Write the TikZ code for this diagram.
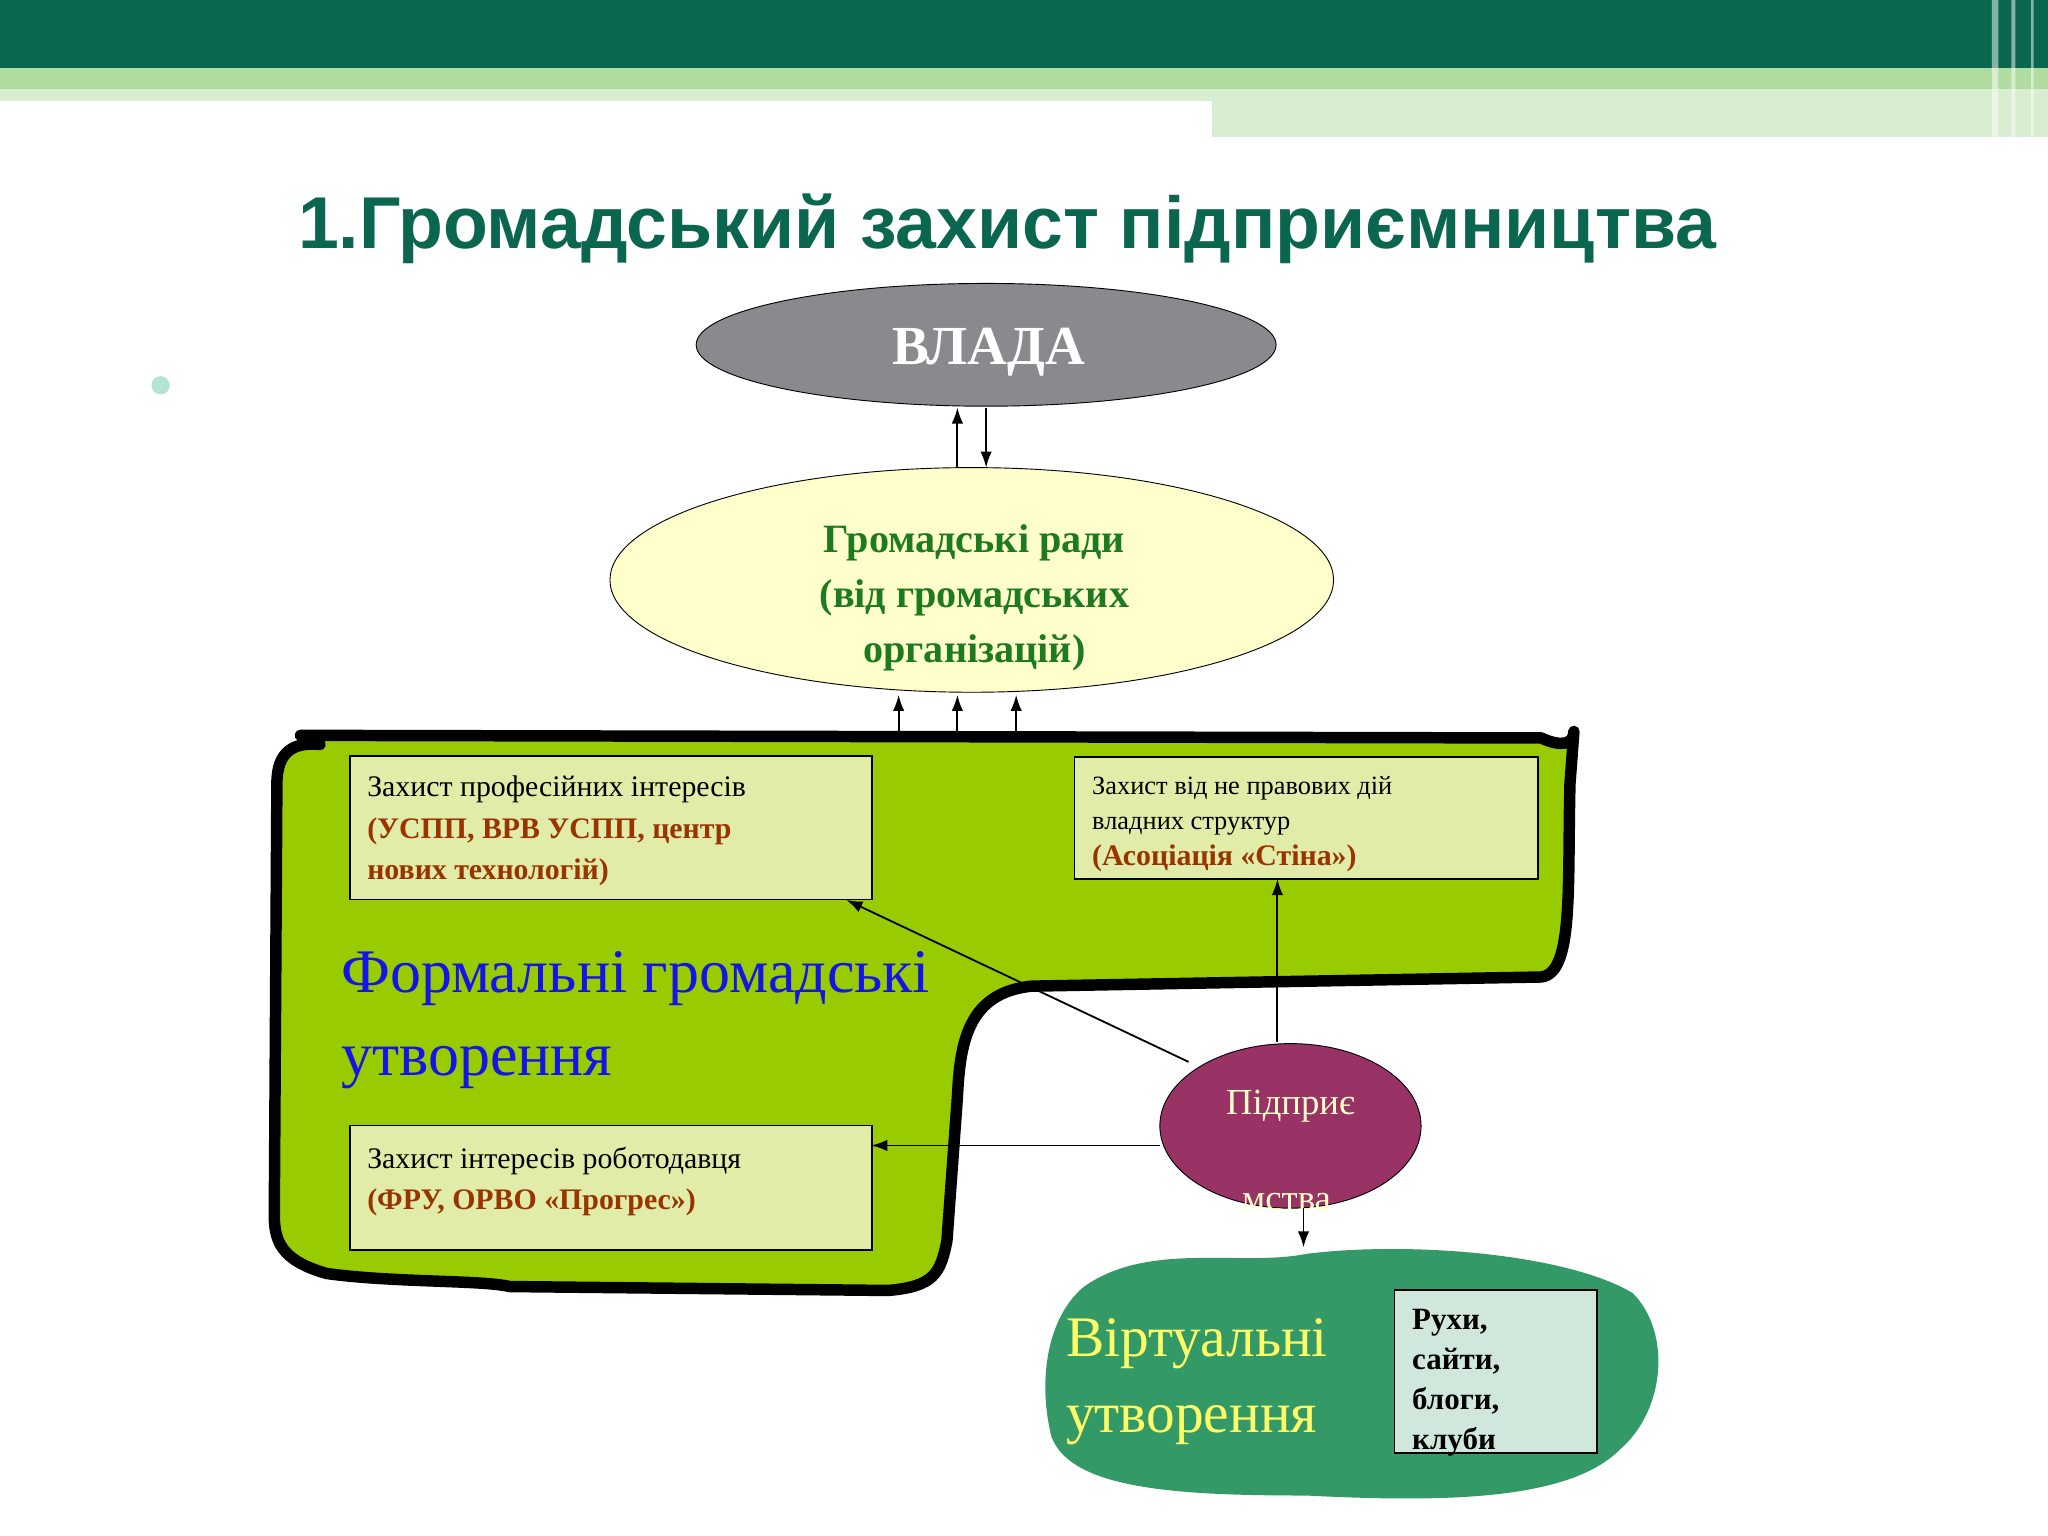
\documentclass[tikz,border=0pt]{standalone}
\usepackage{fontspec}
\setmainfont{Liberation Serif}
\newfontfamily\titlefont{Liberation Sans}
\usetikzlibrary{arrows.meta}
\definecolor{dgreen}{HTML}{0B6650}
\definecolor{lgreen}{HTML}{B0DCA0}
\definecolor{llgreen}{HTML}{D8EED0}
\definecolor{blobg}{HTML}{99CC00}
\definecolor{boxg}{HTML}{E0ECA8}
\definecolor{redt}{HTML}{993300}
\definecolor{virt}{HTML}{339966}
\tikzset{x=0.02cm,y=-0.02cm,
 arr/.style={-{Latex[length=7pt,width=5pt]},thick},
 gbox/.style={draw,thick,fill=boxg},
 btxt/.style={anchor=north west,align=left,font=\fontsize{13}{18}\selectfont}}
\begin{document}
\begin{tikzpicture}
\useasboundingbox (0,0) rectangle (1568,1176);
\fill[white] (0,0) rectangle (1568,1176);
\fill[llgreen] (928,68) rectangle (1568,105);
\fill[lgreen] (0,52) rectangle (1568,68);
\fill[llgreen] (0,68) rectangle (928,77);
\fill[dgreen] (0,0) rectangle (1568,52);
\fill[white,opacity=.5] (1525,0) rectangle (1530,105) (1540,0) rectangle (1543,105) (1555,0) rectangle (1557,105);
\node (title) at (771,175) {\titlefont\bfseries\color{dgreen}\fontsize{32}{36}\selectfont 1.Громадський захист підприємництва};
\fill[cyan!40!green!30] (123,295) circle (7);
% vlada
\draw[fill={rgb,255:red,138;green,138;blue,142}] (755,264) ellipse [x radius=222,y radius=47];
\node[text=white,font=\bfseries\fontsize{24}{28}\selectfont] (vl) at (757,270) {ВЛАДА};
\coordinate (va) at (733,312); \coordinate (vb) at (755,312);
\coordinate (ra) at (733,358); \coordinate (rb) at (755,358);
\draw[arr] (ra) -- (va);
\draw[arr] (vb) -- (rb);
% rady
\draw[fill={rgb,255:red,255;green,255;blue,204}] (744,444) ellipse [x radius=277,y radius=86];
\node[align=center,text={rgb,255:red,30;green,122;blue,30},font=\bfseries\fontsize{17.5}{24}\selectfont] (rady) at (746,458) {Громадські ради\\(від громадських\\ організацій)};
% green blob
\draw[line width=5pt,fill=blobg,line join=round] (230,563) -- (1180,565) .. controls (1195,572) and (1205,570) .. (1205,560)
 -- (1202,600) .. controls (1200,680) and (1205,745) .. (1180,748) -- (790,755) .. controls (740,760) and (735,800) .. (733,840)
 -- (725,950) .. controls (720,975) and (715,985) .. (680,988) -- (390,985) .. controls (370,980) and (300,982) .. (250,975)
 .. controls (215,965) and (210,950) .. (210,930) -- (212,600) .. controls (212,575) and (225,568) .. (245,570) -- cycle;
\foreach \xx in {688,733,778} \draw[arr] (\xx,560) -- (\xx,532);
% boxes
\node[gbox,minimum width=400*0.02cm,minimum height=110*0.02cm,anchor=north west] (b1) at (267,578) {};
\node[btxt] at (275,588) {Захист професійних інтересів\\\textcolor{redt}{\bfseries (УСПП, ВРВ УСПП, центр}\\\textcolor{redt}{\bfseries нових технологій)}};
\node[gbox,minimum width=355*0.02cm,minimum height=93*0.02cm,anchor=north west] (b2) at (822,579) {};
\node[btxt,font=\fontsize{11.5}{15.5}\selectfont] at (830,588) {Захист від не правових дій\\владних структур\\\textcolor{redt}{\bfseries\fontsize{13}{15}\selectfont (Асоціація «Стіна»)}};
\node[gbox,minimum width=400*0.02cm,minimum height=95*0.02cm,anchor=north west] (b3) at (267,861) {};
\node[btxt] at (275,872) {Захист інтересів роботодавця\\\textcolor{redt}{\bfseries (ФРУ, ОРВО «Прогрес»)}};
\node[anchor=west,align=left,text={rgb,255:red,20;green,20;blue,230},font=\fontsize{27}{36}\selectfont] (form) at (255,781) {Формальні громадські\\утворення};
% pidpryiemstva
\draw[fill={rgb,255:red,153;green,51;blue,102}] (988,862) ellipse [x radius=100,y radius=63];
\node[text={rgb,255:red,255;green,255;blue,204},font=\fontsize{16}{18}\selectfont] (p1) at (988,847) {Підприє};
\node[text={rgb,255:red,255;green,255;blue,204},font=\fontsize{16}{18}\selectfont] (p2) at (985,920) {мства};
\coordinate (e1) at (910,813); \coordinate (t1) at (648,689);
\draw[arr] (e1) -- (t1);
\coordinate (e2) at (978,798); \coordinate (t2) at (978,673);
\draw[arr] (e2) -- (t2);
\coordinate (e3) at (888,877); \coordinate (t3) at (667,877);
\draw[arr] (e3) -- (t3);
\coordinate (e4) at (998,925); \coordinate (t4) at (998,955);
\draw[arr] (e4) -- (t4);
% virtual
\fill[virt] (830,985) .. controls (880,950) and (950,970) .. (1000,960) .. controls (1080,950) and (1200,960) .. (1250,990)
 .. controls (1280,1020) and (1275,1080) .. (1240,1110) .. controls (1200,1150) and (1100,1150) .. (1000,1145)
 .. controls (900,1145) and (820,1140) .. (805,1100) .. controls (795,1060) and (800,1010) .. cycle;
\node[anchor=west,align=left,text={rgb,255:red,255;green,255;blue,102},font=\fontsize{25}{33}\selectfont] (virtt) at (810,1058) {Віртуальні\\утворення};
\node[draw,thick,fill={rgb,255:red,208;green,232;blue,220},minimum width=155*0.02cm,minimum height=125*0.02cm,anchor=north west] (vbox) at (1067,987) {};
\node[btxt,font=\bfseries\fontsize{13.5}{17.5}\selectfont] at (1075,996) {Рухи,\\сайти,\\блоги,\\клуби};
\end{tikzpicture}
\end{document}
